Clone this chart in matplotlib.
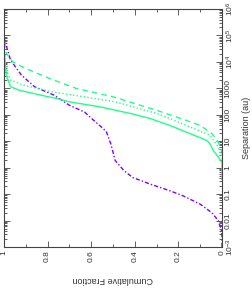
import numpy as np
import matplotlib
matplotlib.use("Agg")
import matplotlib.pyplot as plt
from matplotlib.ticker import FixedLocator, LogLocator, NullFormatter, MultipleLocator

plt.rcParams['font.family'] = ['Liberation Sans', 'DejaVu Sans']
plt.rcParams['mathtext.fontset'] = 'custom'
plt.rcParams['mathtext.rm'] = 'Liberation Sans'
plt.rcParams['mathtext.it'] = 'Liberation Sans'

# log10 separation (au) vs cumulative fraction
purple_logsep = [-3.0, -2.6, -2.39, -2.0, -1.70, -1.38, -1.06, -0.87, -0.62, -0.37, -0.11,
                 0.27, 0.9, 1.35, 1.48, 1.8, 2.1, 2.36, 2.74, 3.06, 3.5, 4.07, 4.9, 6.0]
purple_frac = [0.0, 0.0, 0.002, 0.017, 0.047, 0.10, 0.18, 0.24, 0.33, 0.41, 0.45,
               0.49, 0.51, 0.53, 0.545, 0.59, 0.63, 0.70, 0.77, 0.86, 0.92, 0.97, 1.0, 1.0]

solid_logsep = [-0.45, 0.2, 0.40, 0.65, 0.9, 1.03, 1.29, 1.6, 1.86, 2.05, 2.30, 2.49, 2.62,
                2.74, 2.93, 3.06, 3.5, 4.0, 4.6, 6.0]
solid_frac = [0.0, 0.0, 0.017, 0.04, 0.055, 0.07, 0.147, 0.24, 0.33, 0.42, 0.56, 0.70, 0.76,
              0.83, 0.93, 0.97, 0.99, 0.995, 1.0, 1.0]

dotted_logsep = [0.3, 0.4, 0.78, 1.22, 1.54, 1.86, 2.05, 2.49, 2.74, 2.87, 3.12, 3.31, 3.69, 4.5, 6.0]
dotted_frac = [0.0, 0.0, 0.017, 0.055, 0.147, 0.24, 0.30, 0.49, 0.68, 0.78, 0.91, 0.97, 0.99, 1.0, 1.0]

dashed_logsep = [0.5, 0.59, 0.97, 1.29, 1.6, 1.92, 2.17, 2.68, 3.0, 3.37, 3.75, 4.0, 4.33, 5.0, 6.0]
dashed_frac = [0.0, 0.0, 0.017, 0.047, 0.10, 0.21, 0.30, 0.50, 0.67, 0.79, 0.90, 0.96, 0.99, 1.0, 1.0]

sep_ticks = [1e-3, 1e-2, 1e-1, 1, 10, 100, 1000, 1e4, 1e5, 1e6]
sep_ticklabels = [r'$10^{-3}$', '0.01', '0.1', '1', '10', '100', '1000',
                  r'$10^{4}$', r'$10^{5}$', r'$10^{6}$']
frac_ticks = [0, 0.2, 0.4, 0.6, 0.8, 1]
frac_ticklabels = ['0', '0.2', '0.4', '0.6', '0.8', '1']

purple = '#7f00ff'
green = '#22ff88'

fig = plt.figure(figsize=(2.52, 2.93), dpi=100)
ax = fig.add_axes([4/252, 1-247/293, 218/252, 238/293])

ax.plot(purple_frac, 10**np.array(purple_logsep), color=purple, lw=1.0,
        linestyle=(0, (3, 1.5, 1, 1.5)))
ax.plot(solid_frac, 10**np.array(solid_logsep), color=green, lw=1.0, linestyle='-')
ax.plot(dotted_frac, 10**np.array(dotted_logsep), color=green, lw=1.0, linestyle=(0, (1, 1.6)))
ax.plot(dashed_frac, 10**np.array(dashed_logsep), color=green, lw=1.0, linestyle=(0, (4, 3)))

ax.set_yscale('log')
ax.set_ylim(1e-3, 1e6)
ax.set_xlim(1, 0)

ax.yaxis.set_major_locator(FixedLocator(sep_ticks))
ax.set_yticklabels(sep_ticklabels)
ax.yaxis.set_minor_locator(LogLocator(base=10, subs=np.arange(2, 10), numticks=20))
ax.yaxis.set_minor_formatter(NullFormatter())
ax.xaxis.set_major_locator(FixedLocator(frac_ticks))
ax.set_xticklabels(frac_ticklabels)
ax.xaxis.set_minor_locator(MultipleLocator(0.1))

ax.yaxis.tick_right()
ax.yaxis.set_label_position('right')
ax.tick_params(which='both', direction='in', top=True, bottom=True, left=True, right=True,
               width=0.6, color='#444444')
ax.tick_params(which='major', length=4)
ax.tick_params(which='minor', length=2)
ax.tick_params(axis='x', labelrotation=90, labelsize=6, pad=2.5, labelcolor='#333333')
ax.tick_params(axis='y', labelrotation=90, labelsize=6, pad=2, labelcolor='#333333')
for lab in ax.get_yticklabels():
    lab.set_va('center')

for s in ax.spines.values():
    s.set_linewidth(0.8)
    s.set_color('#444444')

ax.set_xlabel('Cumulative Fraction', rotation=180, fontsize=6.5, color='#333333', labelpad=9)
ax.set_ylabel('Separation (au)', rotation=90, fontsize=6.5, color='#333333', labelpad=4)

fig.savefig('out.png', dpi=100)
